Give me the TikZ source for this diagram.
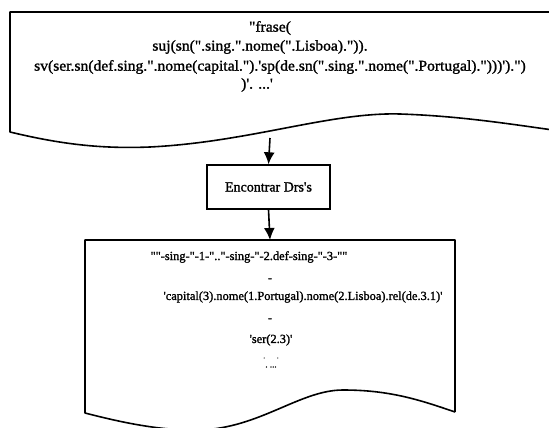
\documentclass[tikz,border=0pt]{standalone}
\usepackage{fontspec}
\newfontface\scanface{Liberation Serif}[FakeBold=1.4]
\newfontface\widescanface{Liberation Serif}[FakeBold=1.4,FakeStretch=1.04]
\usetikzlibrary{arrows.meta}
\begin{document}
\begin{tikzpicture}[x=1pt,y=-1pt,
  outline/.style={line width=1.6pt,line join=round},
  txt/.style={inner sep=0pt,anchor=center,font=\widescanface\fontsize{15}{17}\selectfont},
  small/.style={font=\scanface\fontsize{12.4}{14}\selectfont},
  flow/.style={line width=1.6pt,-{Latex[length=12pt,width=11pt]}},
  procbox/.style={draw,line width=1.4pt,minimum width=123pt,minimum height=44pt,inner sep=0pt,font=\scanface\fontsize{14}{16}\selectfont}]
\useasboundingbox (0,0) rectangle (549,428);
\clip (0,0) rectangle (549,428);

% input document (right side runs past the page edge)
\draw[outline] (560,12) -- (10,12) -- (10,132)
  .. controls (60,144) and (100,149) .. (150,147)
  .. controls (250,142) and (330,112) .. (400,114)
  .. controls (460,116) and (510,124) .. (560,131);
\coordinate (w1) at (270,138);

\node[txt] (t1) at (270,28) {"frase(};
\node[txt] (t2) at (260,47) {suj(sn(".sing.".nome(".Lisboa).")).};
\node[txt] (t3) at (280,67) {sv(ser.sn(def.sing.".nome(capital.").'sp(de.sn(".sing.".nome(".Portugal).")))').")};
\node[txt] (t4) at (257,85) {)'. ...'};

% processing step
\node[procbox] (enc) at (268.5,187) {Encontrar Drs's};

% output document
\draw[outline] (455,412) -- (455,240) -- (85,240) -- (85,413)
  .. controls (120,422) and (160,431) .. (200,430)
  .. controls (260,428) and (300,390) .. (343,390)
  .. controls (390,390) and (420,400) .. (455,412);
\coordinate (d2) at (270,240);

\node[txt,small] (b1) at (249,257) {""-sing-"-1-".."-sing-"-2.def-sing-"-3-""};
\node[txt,small] (b2) at (270,280) {-};
\node[txt,small] (b3) at (303,297) {'capital(3).nome(1.Portugal).nome(2.Lisboa).rel(de.3.1)'};
\node[txt,small] (b4) at (270,320) {-};
\node[txt,small] (b5) at (271,340) {'ser(2.3)'};
\node[txt,font=\scanface\fontsize{9}{10}\selectfont,text=black!60] (b6) at (271,358) {.\quad\ .};
\node[txt,font=\scanface\fontsize{9}{10}\selectfont] (b7) at (271,367) {.\ ...};

% connectors
\draw[flow] (w1) -- (enc.north);
\draw[flow] (enc.south) -- (d2);
\end{tikzpicture}
\end{document}
